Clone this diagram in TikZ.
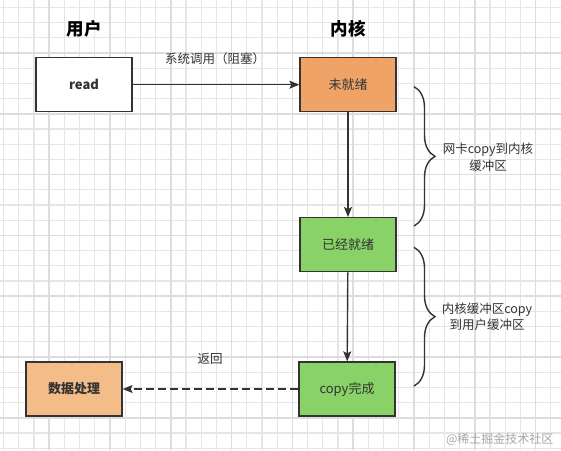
\documentclass[tikz,border=0pt]{standalone}
\usepackage{fontspec}
\setmainfont{Noto Sans CJK SC}
\usetikzlibrary{arrows.meta,decorations.pathreplacing}
\definecolor{linegray}{HTML}{333333}
\definecolor{gridthin}{HTML}{E6E6E6}
\definecolor{gridthick}{HTML}{DDDDDD}
\definecolor{waitorange}{HTML}{EFA366}
\definecolor{workorange}{HTML}{F3BC88}
\definecolor{readygreen}{HTML}{88D267}
\begin{document}
\begin{tikzpicture}[x=1pt,y=-1pt,
    box/.style={draw=linegray,line width=1.3pt,minimum width=96pt,minimum height=54pt,
        text=linegray,font=\fontsize{13}{15}\selectfont},
    title/.style={text=black,font=\fontsize{17.5}{20}\selectfont\bfseries},
    lbl/.style={text=linegray,font=\fontsize{12.5}{16.5}\selectfont,align=center},
    link/.style={draw=linegray,line width=1.4pt,-{Stealth[length=10pt,width=8pt,inset=2pt]}},
    curly/.style={draw=linegray,line width=1.4pt,decorate,
        decoration={brace,amplitude=21pt,aspect=0.5}},
    thin grid/.style={draw=gridthin,line width=1.2pt},
    thick grid/.style={draw=gridthick,line width=1.6pt}]
    \useasboundingbox (0,0) rectangle (561,450);
    \fill[white] (0,0) rectangle (561,450);
    % background grid
    \foreach \i in {0,...,36}
        \draw[thin grid] ({3.6+15.2*\i},0) -- ({3.6+15.2*\i},450);
    \foreach \j in {0,...,29}
        \draw[thin grid] (0,{7.3+15.2*\j}) -- (561,{7.3+15.2*\j});
    \foreach \i in {3,7,...,35}
        \draw[thick grid] ({3.6+15.2*\i},0) -- ({3.6+15.2*\i},450);
    \foreach \j in {3,7,...,27}
        \draw[thick grid] (0,{7.3+15.2*\j}) -- (561,{7.3+15.2*\j});
    \node[title] (user) at (84,29) {用户};
    \node[title] (kernel) at (348,29) {内核};
    \node[box,fill=white,font=\fontsize{13}{15}\selectfont\bfseries] (read) at (84,84.7) {read};
    \node[box,fill=waitorange] (wait) at (348,84.7) {未就绪};
    \node[box,fill=readygreen] (ready) at (348,244.7) {已经就绪};
    \node[box,fill=readygreen] (done) at (347,389) {copy完成};
    \node[box,fill=workorange,font=\fontsize{13}{15}\selectfont\bfseries] (work) at (74,389) {数据处理};
    \draw[link] (read) -- (wait);
    \draw[link] (wait) -- (ready);
    \draw[link] (ready) -- (done);
    \draw[link,dash pattern=on 8pt off 4pt] (done) -- (work);
    \node[lbl] (call) at (215,59) {系统调用（阻塞）};
    \node[lbl] (back) at (210,359) {返回};
    % braces
    \coordinate (b1top) at (414,86.7);
    \coordinate (b1bot) at (414,226);
    \coordinate (b2top) at (414,247.3);
    \coordinate (b2bot) at (414,386);
    \draw[curly] (b1top) -- (b1bot);
    \draw[curly] (b2top) -- (b2bot);
    \node[lbl] (nic) at (488,157) {网卡copy到内核\\缓冲区};
    \node[lbl] (copy) at (487,317) {内核缓冲区copy\\到用户缓冲区};
    \node[text=black!35,font=\fontsize{12}{14}\selectfont,anchor=east] (mark) at (557,439) {@稀土掘金技术社区};
\end{tikzpicture}
\end{document}
